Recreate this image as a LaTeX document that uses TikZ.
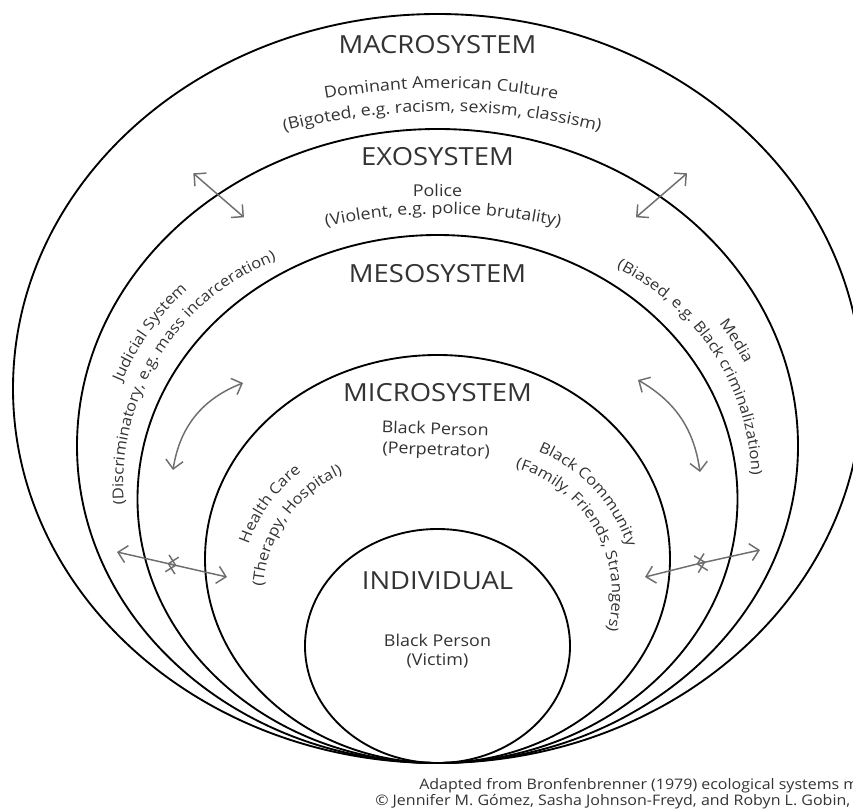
\documentclass[tikz,border=0pt]{standalone}
\usepackage{fontspec}
\setmainfont{Open Sans}
\newfontfamily\osf[FakeStretch=1.1]{Open Sans}
\usetikzlibrary{arrows.meta,decorations.text}
\definecolor{txt}{HTML}{333333}
\definecolor{arr}{HTML}{6E6E6E}
\newcommand\titlefont{\osf\fontsize{18.7}{22}\selectfont}
\newcommand\labfont{\osf\fontsize{12.2}{15}\selectfont}
\newcommand\sidefont{\osf\fontsize{11.3}{14}\selectfont}
\newcommand\footfont{\osf\fontsize{10.9}{12}\selectfont}
\begin{document}
\begin{tikzpicture}[x=0.75pt,y=0.75pt,
  ring/.style={draw=black,line width=1.4pt},
  title/.style={font=\titlefont,text=txt,inner sep=0pt,anchor=base},
  lab/.style={font=\labfont,text=txt,inner sep=0pt,anchor=base},
  foot/.style={font=\footfont,text=txt,inner sep=0pt,anchor=base west},
  garrow/.style={draw=arr,line width=1.1pt,arrows={Straight Barb[length=6.5pt,width=13pt]-Straight Barb[length=6.5pt,width=13pt]}},
  curvetext/.style={decorate,decoration={text along path,text align=center,text color=txt,text={#1}}},
]
\useasboundingbox (0,0) rectangle (853,808);

% rings
\coordinate (cmacro) at (437.5,419.5);
\coordinate (cexo) at (437.5,362);
\coordinate (cmeso) at (437.5,309);
\coordinate (cmicro) at (437.5,249);
\coordinate (cind) at (437.5,162);
\draw[ring] (cmacro) ellipse [x radius=424.5, y radius=374.5];
\draw[ring] (cexo) ellipse [x radius=360.5, y radius=317];
\draw[ring] (cmeso) ellipse [x radius=300, y radius=264];
\draw[ring] (cmicro) ellipse [x radius=232.5, y radius=204];
\draw[ring] (cind) ellipse [x radius=132.5, y radius=117];

% titles
\node[title] (tmacro) at (437.5,754.7) {MACROSYSTEM};
\node[title] (texo) at (437.5,642) {EXOSYSTEM};
\node[title] (tmeso) at (437.5,525) {MESOSYSTEM};
\node[title] (tmicro) at (437.5,406.3) {MICROSYSTEM};
\node[title] (tind) at (437.5,219) {INDIVIDUAL};

% straight labels
\node[lab] (police) at (437.5,611) {Police};
\node[lab,rotate=-2] (bperp) at (435,373.5) {Black Person};
\node[lab,rotate=-2] (perp) at (436,353) {(Perpetrator)};
\node[lab] (bvict) at (437.5,161.5) {Black Person};
\node[lab] (victim) at (437.5,143) {(Victim)};

% curved labels, top
\coordinate (ct1) at (441,84.7);
\coordinate (ct2) at (442,46.3);
\coordinate (ct3) at (443,54);
\path[curvetext={|\labfont|Dominant American Culture}] (ct1) ++(110:635) arc[start angle=110,end angle=70,radius=635];
\path[curvetext={|\labfont|(Bigoted, e.g. racism, sexism, classism)}] (ct2) ++(108:650) arc[start angle=108,end angle=72,radius=650];
\path[curvetext={|\labfont|(Violent, e.g. police brutality)}] (ct3) ++(112:540) arc[start angle=112,end angle=68,radius=540];

% curved labels, exosystem sides
\coordinate (csl) at (363.3,324.1);
\coordinate (csr) at (511.7,324.1);
\path[curvetext={|\sidefont|Judicial System}] (csl) ++(204.7:262) arc[start angle=204.7,end angle=84.7,radius=262];
\path[curvetext={|\sidefont|(Discriminatory, e.g. mass incarceration)}] (csl) ++(208.1:240) arc[start angle=208.1,end angle=88.1,radius=240];
\path[curvetext={|\sidefont|Media}] (csr) ++(92.5:262) arc[start angle=92.5,end angle=-27.5,radius=262];
\path[curvetext={|\sidefont|(Biased, e.g. Black criminalization)}] (csr) ++(93.1:240) arc[start angle=93.1,end angle=-26.9,radius=240];

% curved labels, microsystem sides
\coordinate (cml) at (395,213);
\coordinate (cmr) at (480,213);
\path[curvetext={|\sidefont|Health Care}] (cml) ++(204:155) arc[start angle=204,end angle=84,radius=155];
\path[curvetext={|\sidefont|(Therapy, Hospital)}] (cml) ++(204.8:132) arc[start angle=204.8,end angle=84.8,radius=132];
\path[curvetext={|\sidefont|Black Community}] (cmr) ++(103:155) arc[start angle=103,end angle=-17,radius=155];
\path[curvetext={|\sidefont|(Family, Friends, Strangers)}] (cmr) ++(89.4:132) arc[start angle=89.4,end angle=-30.6,radius=132];

% arrows
\coordinate (tl1) at (193.3,634.7); \coordinate (tl2) at (244,590.7);
\coordinate (tr1) at (687,634.7); \coordinate (tr2) at (636,590.7);
\draw[garrow] (tl1) -- (tl2);
\draw[garrow] (tr1) -- (tr2);
\coordinate (cl1) at (173,338); \coordinate (cl2) at (243,425);
\coordinate (cr1) at (638,428); \coordinate (cr2) at (700,336);
\draw[garrow] (cl1) to[bend left=30] (cl2);
\draw[garrow] (cr1) to[bend left=26] (cr2);
\coordinate (bl1) at (117,256); \coordinate (bl2) at (176.6,242.5);
\coordinate (bl3) at (167.4,244.5); \coordinate (bl4) at (227,231);
\draw[garrow] (bl1) -- (bl2);
\draw[garrow] (bl3) -- (bl4);
\coordinate (br1) at (645,231); \coordinate (br2) at (705.6,246.1);
\coordinate (br3) at (696.4,243.9); \coordinate (br4) at (760,258);
\draw[garrow] (br1) -- (br2);
\draw[garrow] (br3) -- (br4);

% footer
\node[foot] (f1) at (419,18.5) {Adapted from Bronfenbrenner (1979) ecological systems m};
\node[foot] (f2) at (375,3) {© Jennifer M. Gómez, Sasha Johnson-Freyd, and Robyn L. Gobin,};
\end{tikzpicture}
\end{document}
